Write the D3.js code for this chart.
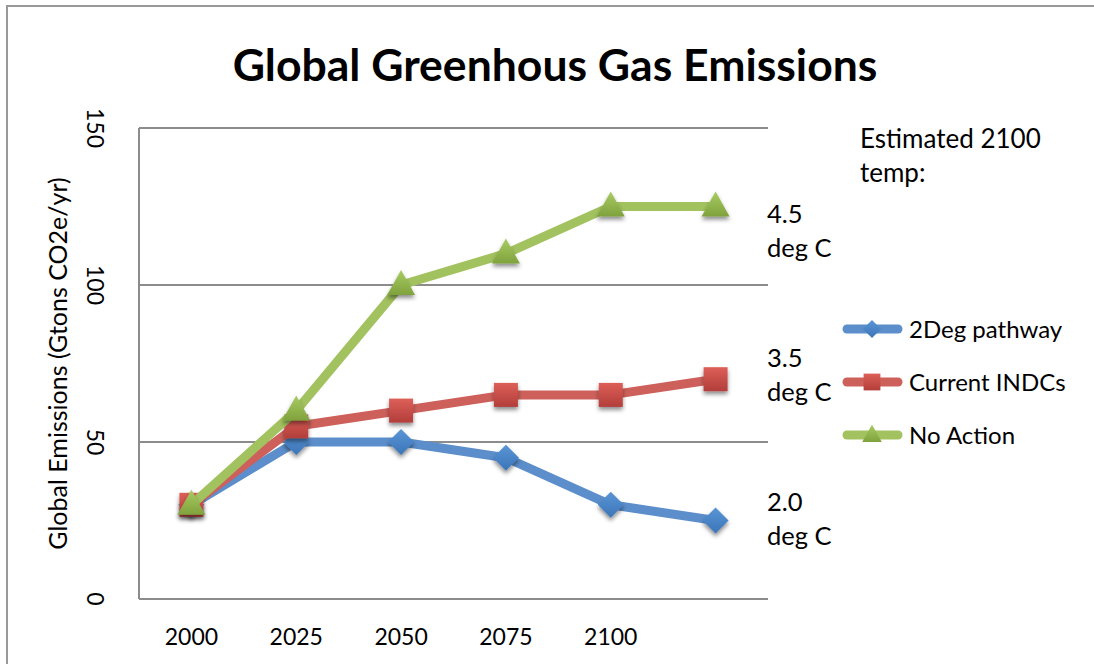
<!DOCTYPE html>
<html>
<head>
<meta charset="utf-8">
<script src="https://cdn.jsdelivr.net/npm/d3@7"></script>
<style>
  html, body { margin: 0; padding: 0; background: #fff; }
  svg { display: block; font-family: Lato, "Open Sans", "Liberation Sans", sans-serif; }
</style>
</head>
<body>
<svg id="chart" width="1094" height="664"></svg>
<script>
// Categories along the x axis (the last slot is left unlabeled)
const years = ["2000", "2025", "2050", "2075", "2100", ""];
// Emissions in Gtons CO2e per year
const twoDegPathway = [30, 50, 50, 45, 30, 25];
const currentINDCs = [30, 55, 60, 65, 65, 70];
const noAction = [30, 60, 100, 110, 125, 125];
const yTicks = [0, 50, 100, 150];
const seriesNames = ["2Deg pathway", "Current INDCs", "No Action"];
// Estimated 2100 temperature, placed beside the end level of each pathway
const tempLabels = [["4.5", "deg C", 125], ["3.5", "deg C", 79], ["2.0", "deg C", 33]];

const svg = d3.select("#chart");

const series = [
  { name: seriesNames[0], values: twoDegPathway, line: "#5B8ECB", fillA: "#5A95D6", fillB: "#3B75B8", shape: "diamond" },
  { name: seriesNames[1], values: currentINDCs, line: "#CD605B", fillA: "#DD5F58", fillB: "#B23E3A", shape: "square" },
  { name: seriesNames[2], values: noAction, line: "#A2C25F", fillA: "#A8CB62", fillB: "#7FA23D", shape: "triangle" }
];

const defs = svg.append("defs");
const shadow = defs.append("filter").attr("id", "markShadow")
  .attr("x", "-50%").attr("y", "-50%").attr("width", "200%").attr("height", "200%");
shadow.append("feDropShadow").attr("dx", 0).attr("dy", 3).attr("stdDeviation", 2)
  .attr("flood-color", "#000").attr("flood-opacity", 0.45);
series.forEach((s, i) => {
  const g = defs.append("linearGradient").attr("id", "grad" + i)
    .attr("x1", 0).attr("y1", 0).attr("x2", 0).attr("y2", 1);
  g.append("stop").attr("offset", "0%").attr("stop-color", s.fillA);
  g.append("stop").attr("offset", "100%").attr("stop-color", s.fillB);
});

// Outer frame
svg.append("rect").attr("x", 7).attr("y", 6).attr("width", 1100).attr("height", 700)
  .attr("fill", "none").attr("stroke", "#999").attr("stroke-width", 2);

const plot = { left: 139, right: 768, top: 128, bottom: 599 };

const x = d3.scaleBand().domain(years.map((d, i) => i)).range([plot.left, plot.right]);
const cx = i => x(i) + x.bandwidth() / 2;
const y = d3.scaleLinear().domain([0, 150]).range([plot.bottom, plot.top]);

// Title
svg.append("text").attr("x", 555).attr("y", 81).attr("text-anchor", "middle")
  .attr("font-size", 44.5).attr("font-weight", "bold").attr("fill", "#000")
  .text("Global Greenhous Gas Emissions");

// Gridlines
svg.append("g").selectAll("line").data(yTicks.filter(d => d > 0)).join("line")
  .attr("x1", plot.left).attr("x2", plot.right)
  .attr("y1", d => y(d)).attr("y2", d => y(d))
  .attr("stroke", "#8c8c8c").attr("stroke-width", 2);

// Axis lines
svg.append("line").attr("x1", plot.left).attr("x2", plot.left)
  .attr("y1", plot.top).attr("y2", plot.bottom).attr("stroke", "#8c8c8c").attr("stroke-width", 2);
svg.append("line").attr("x1", plot.left).attr("x2", plot.right)
  .attr("y1", plot.bottom).attr("y2", plot.bottom).attr("stroke", "#8c8c8c").attr("stroke-width", 2);

// Y tick labels, rotated
svg.append("g").selectAll("text").data(yTicks).join("text")
  .attr("transform", d => `translate(87,${y(d)}) rotate(90)`)
  .attr("text-anchor", "middle").attr("font-size", 23).attr("fill", "#000")
  .text(d => d);

// X tick labels
svg.append("g").selectAll("text").data(years).join("text")
  .attr("x", (d, i) => cx(i)).attr("y", 645)
  .attr("text-anchor", "middle").attr("font-size", 23).attr("fill", "#000")
  .text(d => d);

// Y axis title
svg.append("text").attr("transform", `translate(67,${(plot.top + plot.bottom) / 2}) rotate(-90)`)
  .attr("text-anchor", "middle").attr("font-size", 25).attr("fill", "#000")
  .text("Global Emissions (Gtons CO2e/yr)");

function marker(sel, shape, i) {
  if (shape === "diamond") {
    sel.append("path").attr("d", "M0,-13L13,0L0,13L-13,0Z").attr("fill", `url(#grad${i})`);
  } else if (shape === "square") {
    sel.append("rect").attr("x", -12).attr("y", -12).attr("width", 24).attr("height", 24)
      .attr("fill", `url(#grad${i})`);
  } else {
    sel.append("path").attr("d", "M0,-15L14,10L-14,10Z").attr("fill", `url(#grad${i})`);
  }
}

const line = d3.line().x((d, i) => cx(i)).y(d => y(d));

series.forEach((s, si) => {
  const g = svg.append("g");
  g.append("path").datum(s.values).attr("d", line)
    .attr("fill", "none").attr("stroke", s.line).attr("stroke-width", 9)
    .attr("stroke-linejoin", "round").attr("stroke-linecap", "round");
  g.selectAll("g.mk").data(s.values).join("g").attr("class", "mk")
    .attr("transform", (d, i) => `translate(${cx(i)},${y(d)})`)
    .attr("filter", "url(#markShadow)")
    .each(function () { marker(d3.select(this), s.shape, si); });
});

// Temperature annotations
svg.append("text").attr("x", 860).attr("y", 148).attr("font-size", 26).text("Estimated 2100");
svg.append("text").attr("x", 860).attr("y", 182).attr("font-size", 26).text("temp:");
tempLabels.forEach(([a, b, v]) => {
  const t = svg.append("text").attr("x", 767).attr("font-size", 25.5);
  t.append("tspan").attr("x", 767).attr("y", y(v) + 16).text(a);
  t.append("tspan").attr("x", 767).attr("y", y(v) + 50).text(b);
});

// Legend
const legend = svg.append("g").selectAll("g").data(series).join("g")
  .attr("transform", (d, i) => `translate(0,${329 + i * 53})`);
legend.append("line").attr("x1", 847).attr("x2", 898).attr("y1", 0).attr("y2", 0)
  .attr("stroke", d => d.line).attr("stroke-width", 9).attr("stroke-linecap", "round");
legend.each(function (d, i) {
  const m = d3.select(this).append("g").attr("transform", "translate(872,0) scale(0.7)");
  marker(m, d.shape, i);
});
legend.append("text").attr("x", 909).attr("y", 9).attr("font-size", 24).text(d => d.name);
</script>
</body>
</html>
